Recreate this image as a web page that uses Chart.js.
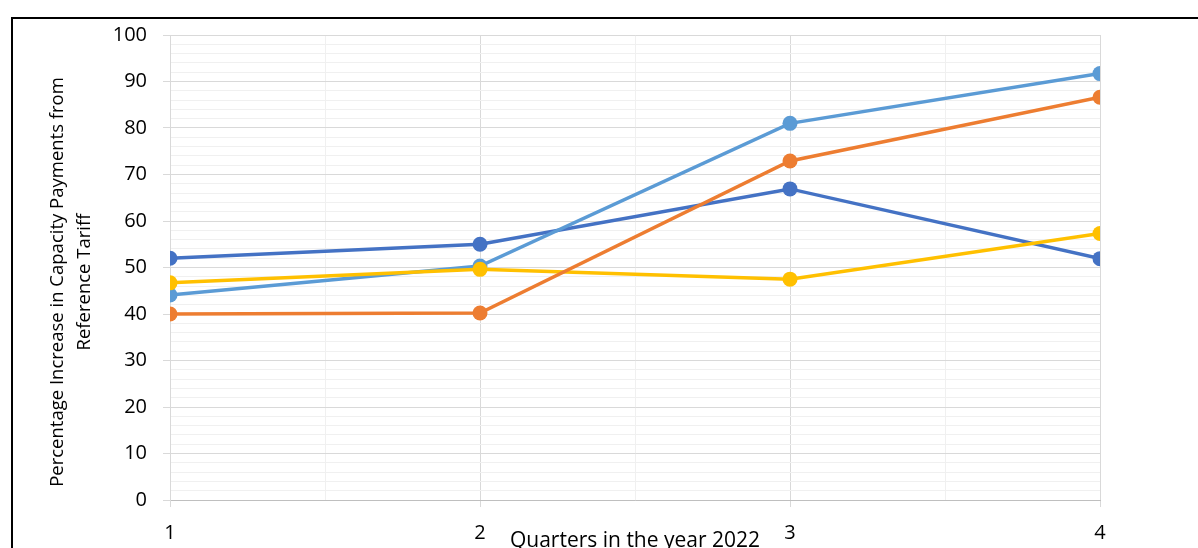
<!DOCTYPE html>
<html>
<head>
<meta charset="utf-8">
<script src="https://cdn.jsdelivr.net/npm/chart.js@4/dist/chart.umd.min.js"></script>
<style>
  body { margin: 0; background: #fff; }
  #wrap { position: relative; width: 1198px; height: 548px; overflow: hidden; }
  #frame { position: absolute; left: 11px; top: 17px; width: 1300px; height: 600px;
           border-left: 2px solid #000; border-top: 2px solid #000; }
  #chart { position: absolute; left: 0; top: 0; }
</style>
</head>
<body>
<div id="wrap">
  <div id="frame"></div>
  <canvas id="chart" width="1198" height="548"></canvas>
</div>
<script>
// quarters on the x axis
var quarters = [1, 2, 3, 4];

// percentage increase per series, one value per quarter
var darkBlueVals = [52.0, 55.0, 66.9, 51.9];
var lightBlueVals = [44.1, 50.3, 81.0, 91.7];
var orangeVals = [40.0, 40.2, 72.9, 86.6];
var yellowVals = [46.7, 49.6, 47.5, 57.3];

var yTitle = ['Percentage Increase in Capacity Payments from', 'Reference Tariff'];
var xTitle = 'Quarters in the year 2022';

var majorGrid = '#d9d9d9';
var minorGrid = '#f0f0f0';
var fontName = '"Open Sans", "Noto Sans", sans-serif';

function toPoints(vals) {
  var pts = [];
  for (var i = 0; i < quarters.length; i++) {
    pts.push({ x: quarters[i], y: vals[i] });
  }
  return pts;
}

function makeSet(vals, color) {
  return {
    data: toPoints(vals),
    borderColor: color,
    backgroundColor: color,
    borderWidth: 3.5,
    pointRadius: 7.5,
    pointHoverRadius: 7.5,
    pointBorderWidth: 0,
    tension: 0
  };
}

// axis titles drawn by hand so they sit where they should
var axisTitles = {
  id: 'axisTitles',
  afterDraw: function (chart) {
    var ctx = chart.ctx;
    var area = chart.chartArea;
    ctx.save();
    ctx.fillStyle = '#000';
    ctx.textAlign = 'center';
    ctx.textBaseline = 'middle';
    ctx.font = '18.5px ' + fontName;
    ctx.save();
    ctx.translate(58, 282);
    ctx.rotate(-Math.PI / 2);
    ctx.fillText(yTitle[0], 0, 0);
    ctx.fillText(yTitle[1], 0, 27);
    ctx.restore();
    ctx.font = '21px ' + fontName;
    ctx.textBaseline = 'alphabetic';
    ctx.fillText(xTitle, (area.left + area.right) / 2, 547);
    ctx.restore();
  }
};

var ctx = document.getElementById('chart');
var myChart = new Chart(ctx, {
  type: 'line',
  data: {
    // first dataset ends up on top
    datasets: [
      makeSet(orangeVals, '#ED7D31'),
      makeSet(yellowVals, '#FFC000'),
      makeSet(lightBlueVals, '#5B9BD5'),
      makeSet(darkBlueVals, '#4472C4')
    ]
  },
  options: {
    responsive: false,
    animation: false,
    layout: { padding: { left: 0, top: 35, right: 98, bottom: 0 } },
    plugins: {
      legend: { display: false },
      tooltip: { enabled: false }
    },
    scales: {
      x: {
        type: 'linear',
        min: 1,
        max: 4,
        afterFit: function (scale) { scale.height = 48; },
        ticks: {
          stepSize: 0.5,
          autoSkip: false,
          maxRotation: 0,
          padding: 14,
          color: '#000',
          font: { family: fontName, size: 20 },
          callback: function (v) { return v % 1 === 0 ? String(v) : ''; }
        },
        grid: {
          color: function (c) { return c.tick && c.tick.value % 1 === 0 ? majorGrid : minorGrid; },
          tickColor: function (c) { return c.tick && c.tick.value % 1 === 0 ? majorGrid : 'rgba(0,0,0,0)'; },
          tickLength: 7,
          lineWidth: 1
        },
        border: { color: '#bfbfbf', width: 1 }
      },
      y: {
        min: 0,
        max: 100,
        afterFit: function (scale) { scale.width = 170; },
        ticks: {
          stepSize: 2,
          autoSkip: false,
          padding: 16,
          color: '#000',
          font: { family: fontName, size: 20 },
          callback: function (v) { return v % 10 === 0 ? String(v) : ''; }
        },
        grid: {
          color: function (c) { return c.tick && c.tick.value % 10 === 0 ? majorGrid : minorGrid; },
          tickColor: function (c) { return c.tick && c.tick.value % 10 === 0 ? majorGrid : 'rgba(0,0,0,0)'; },
          tickLength: 7,
          lineWidth: 1
        },
        border: { color: majorGrid, width: 1 }
      }
    }
  },
  plugins: [axisTitles]
});
</script>
</body>
</html>
